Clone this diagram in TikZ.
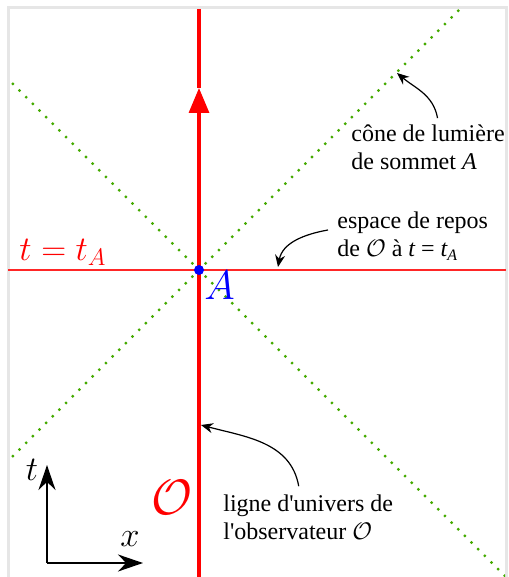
\documentclass[tikz,border=0pt]{standalone}
\usepackage{fontspec}
\usepackage{tikz}
\usetikzlibrary{arrows.meta}
\newfontfamily\annotfont{Liberation Serif}
\definecolor{coneGreen}{RGB}{68,170,0}
\definecolor{frameGray}{RGB}{230,230,230}

\begin{document}
\begin{tikzpicture}[x=0.5pt,y=0.5pt,
    lightcone/.style={coneGreen, line width=1.6pt, line cap=round,
        dash pattern=on 0pt off 4.7pt},
    note/.style={font=\annotfont\fontsize{12}{14}\selectfont,
        align=left, anchor=west, inner sep=0pt},
    notearrow/.style={line width=0.6pt, -{Stealth[length=6pt,width=5pt]}},
    axis/.style={line width=1pt, -{Stealth[length=12.5pt,width=8.5pt]}}]
    \useasboundingbox (0,0) rectangle (508,577);
    \draw[frameGray, line width=1.5pt] (8,-10) -- (8,569) -- (506,569) -- (506,-10);
    \coordinate (A) at (199,307);
    % light cone of A
    \begin{scope}
      \clip (9,0) rectangle (505,568);
      \foreach \angle in {45,135,-135,-45} {
        \draw[lightcone] (A) -- ++(\angle:700);
      }
    \end{scope}
    % rest space and world line
    \draw[red!85, line width=0.7pt] (8,307) -- (506,307);
    \coordinate (wlbot) at (199,0);
    \coordinate (wlmid) at (199,489);
    \coordinate (wltop) at (199,568);
    \draw[red, line width=1.6pt, -{Triangle[length=12.5pt,width=10pt]}] (wlbot) -- (wlmid);
    \draw[red, line width=1.6pt] (wlmid) -- (wltop);
    \fill[blue] (A) circle (5);
    \node[red, font=\LARGE] (tA) at (63,325) {$t = t_A$};
    \node[blue, font=\huge, anchor=north west, inner sep=0pt] (Alabel) at (204,306) {$A$};
    \node[red, font=\Huge] (obs) at (172,80) {$\mathcal{O}$};
    % axes
    \coordinate (orig) at (47,14);
    \coordinate (tend) at (47,112);
    \coordinate (xend) at (143,14);
    \draw[axis] (orig) -- (tend);
    \draw[axis] (orig) -- (xend);
    \node[font=\LARGE] (tlabel) at (32,107) {$t$};
    \node[font=\LARGE] (xlabel) at (130,38) {$x$};
    % annotations
    \node[note] (conelbl) at (351,430) {cône de lumière\\de sommet {\itshape A}};
    \node[note] (reposlbl) at (337,341) {espace de repos\\de {\large$\mathcal{O}$} à {\itshape t} = {\itshape t}\textsubscript{\itshape A}};
    \node[note] (univlbl) at (223,60) {ligne d\textquotesingle univers de\\l\textquotesingle observateur {\large$\mathcal{O}$}};
    \coordinate (conetip) at (397,504);
    \coordinate (repostip) at (278,310);
    \coordinate (univtip) at (201,152);
    \draw[notearrow] ([xshift=4.75pt,yshift=3pt]conelbl.north) to[out=100,in=-40] (conetip);
    \draw[notearrow] ([xshift=-4.5pt,yshift=3pt]reposlbl.west) to[out=190,in=80] (repostip);
    \draw[notearrow] ([xshift=-4.75pt,yshift=4pt]univlbl.north) to[out=100,in=-15] (univtip);
\end{tikzpicture}
\end{document}
